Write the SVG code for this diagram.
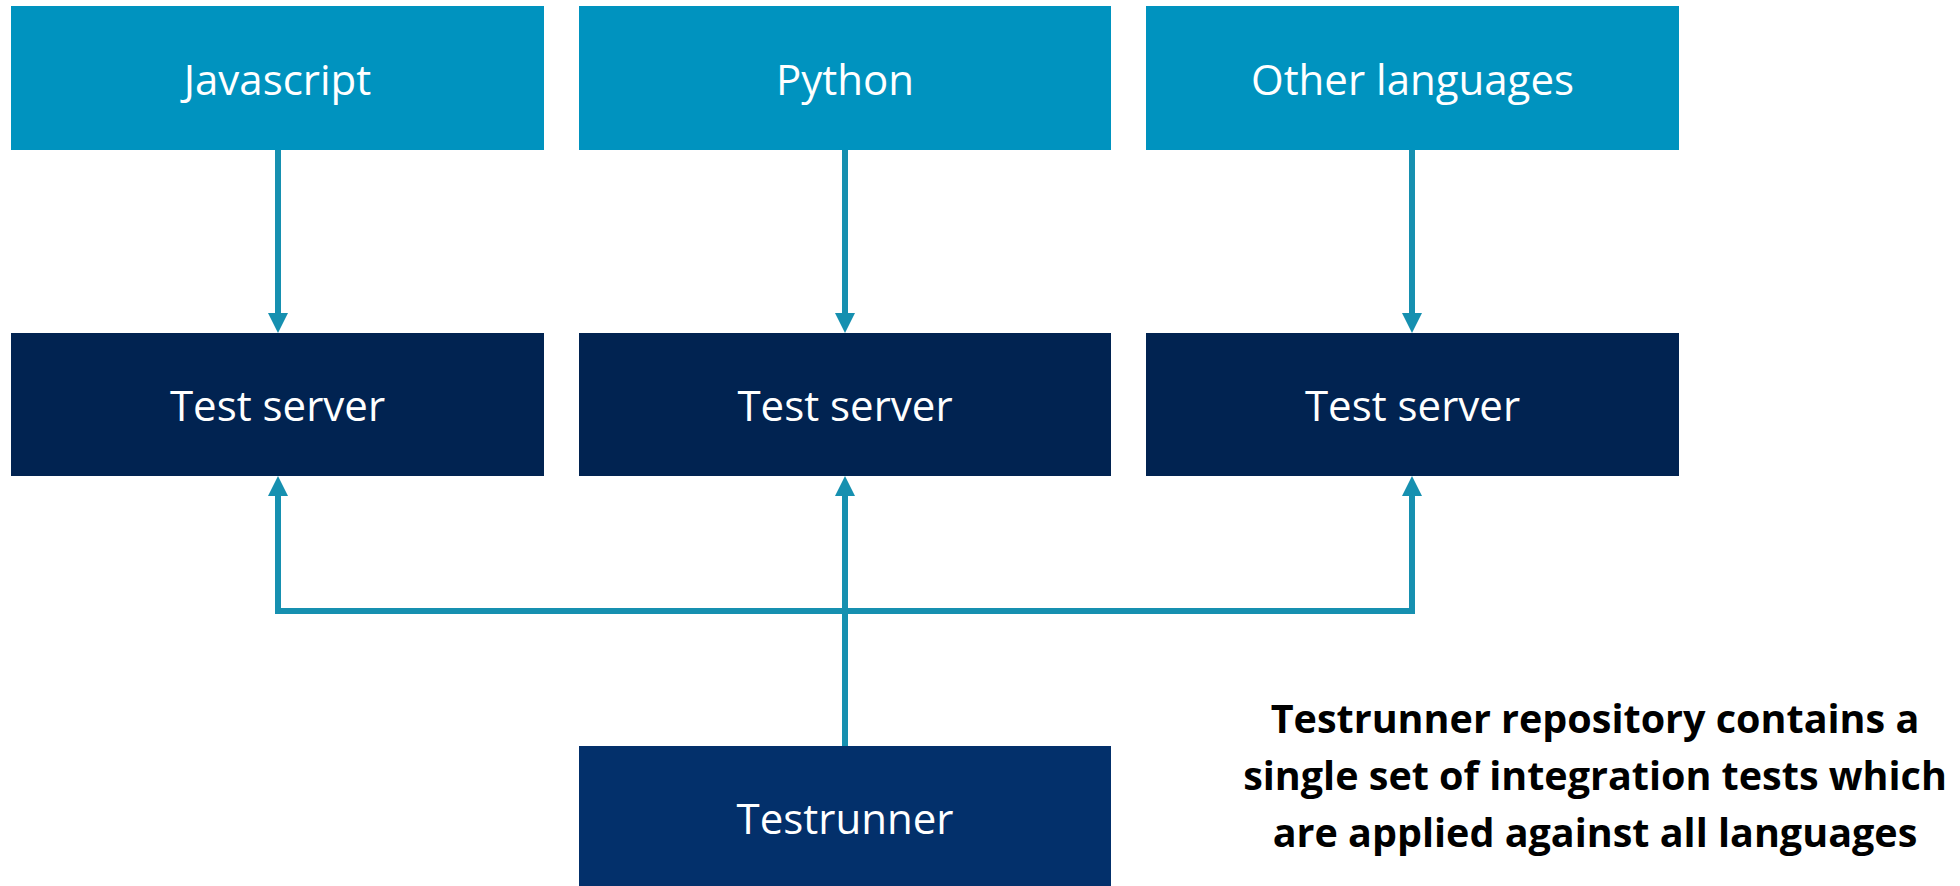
<svg xmlns="http://www.w3.org/2000/svg" width="1960" height="886" viewBox="0 0 1960 886">
  <style>
    .lang { fill: #0093BF; }
    .server { fill: #012351; }
    .runner { fill: #03306B; }
    .lbl { font-family: "Open Sans", "Liberation Sans", sans-serif; font-size: 42px; fill: #FFFFFF; text-anchor: middle; }
    .note { font-family: "Open Sans", "Liberation Sans", sans-serif; font-size: 39.5px; font-weight: bold; fill: #000000; text-anchor: middle; }
    .conn { fill: none; stroke: #1690B0; stroke-width: 6; }
  </style>
  <defs>
    <marker id="arr" viewBox="0 0 20 20" refX="0" refY="10" markerWidth="20" markerHeight="20" markerUnits="userSpaceOnUse" orient="auto">
      <path d="M0,0 L20,10 L0,20 Z" fill="#1690B0"/>
    </marker>
  </defs>
  <rect width="1960" height="886" fill="#FFFFFF"/>

  <g id="connectors">
    <path class="conn" d="M278,150 V313" marker-end="url(#arr)"/>
    <path class="conn" d="M845,150 V313" marker-end="url(#arr)"/>
    <path class="conn" d="M1412,150 V313" marker-end="url(#arr)"/>
    <path class="conn" d="M278,611 V496" marker-end="url(#arr)"/>
    <path class="conn" d="M1412,611 V496" marker-end="url(#arr)"/>
    <path class="conn" d="M275,611 H1415"/>
    <path class="conn" d="M845,746 V496" marker-end="url(#arr)"/>
  </g>

  <g id="node-javascript">
    <rect class="lang" x="11" y="6" width="533" height="144"/>
    <text class="lbl" x="277.5" y="95">Javascript</text>
  </g>
  <g id="node-python">
    <rect class="lang" x="579" y="6" width="532" height="144"/>
    <text class="lbl" x="845" y="95">Python</text>
  </g>
  <g id="node-other">
    <rect class="lang" x="1146" y="6" width="533" height="144"/>
    <text class="lbl" x="1412.5" y="95">Other languages</text>
  </g>

  <g id="node-server-js">
    <rect class="server" x="11" y="333" width="533" height="143"/>
    <text class="lbl" x="277.5" y="421">Test server</text>
  </g>
  <g id="node-server-py">
    <rect class="server" x="579" y="333" width="532" height="143"/>
    <text class="lbl" x="845" y="421">Test server</text>
  </g>
  <g id="node-server-other">
    <rect class="server" x="1146" y="333" width="533" height="143"/>
    <text class="lbl" x="1412.5" y="421">Test server</text>
  </g>

  <g id="node-testrunner">
    <rect class="runner" x="579" y="746" width="532" height="145"/>
    <text class="lbl" x="845" y="834">Testrunner</text>
  </g>

  <g id="note">
    <text class="note" x="1595" y="733">Testrunner repository contains a</text>
    <text class="note" x="1595" y="790">single set of integration tests which</text>
    <text class="note" x="1595" y="847">are applied against all languages</text>
  </g>
</svg>
